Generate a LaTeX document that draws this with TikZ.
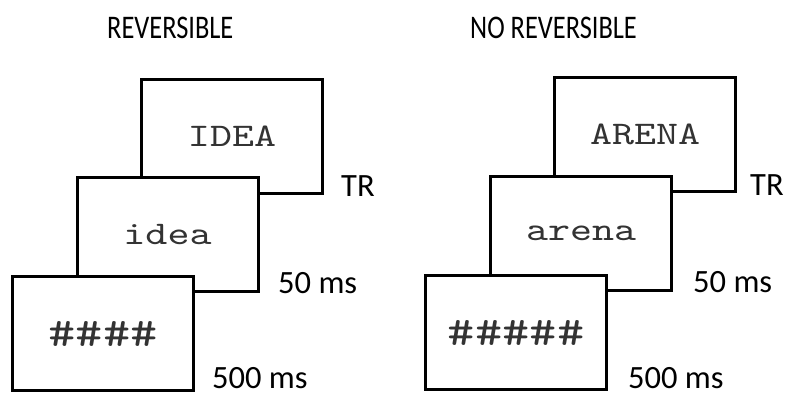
\documentclass[tikz,border=0pt]{standalone}
\usepackage{fontspec}
\usepackage{tikz}
\newfontfamily\labelfont{Carlito}
\newfontfamily\titlefont{Carlito}[FakeStretch=0.8]
\newfontfamily\screenfont{lmmono10-regular.otf}[FakeStretch=1.27]

\tikzset{screen/.style={draw=black, line width=3pt, fill=white, minimum width=181pt, minimum height=114pt, inner sep=0pt, text=black!80},
word/.style={font=\screenfont\fontsize{33}{33}\selectfont},
mask/.style={font=\screenfont\fontsize{41}{41}\selectfont},
lab/.style={anchor=base west, inner sep=0pt, text depth=0pt, font=\labelfont\fontsize{32.5}{32.5}\selectfont},
title/.style={anchor=base west, inner sep=0pt, font=\titlefont\fontsize{33}{33}\selectfont}}

\begin{document}
\begin{tikzpicture}[x=1pt,y=-1pt]
\useasboundingbox (0,0) rectangle (786,394);

%%%%% Reversible
\node [title] (revtitle) at (107,38) {REVERSIBLE};

\node [screen, word] (revtarget) at (232,136.5) {IDEA};
\node [screen, word] (revprime) at (167.5,234.5) {idea};
\node [screen, mask] (revmask) at (103,333.5) {\#\#\#\#};

\node [lab] (revtr) at (341,196) {TR}; \node [lab] (revfifty) at (278,293) {50 ms}; \node [lab] (revfive) at (212,388) {500 ms};

%%%%% No reversible
\node [title] (nrevtitle) at (470,38) {NO REVERSIBLE};

\node [screen, word] (nrevtarget) at (645,134.5) {ARENA};
\node [screen, word] (nrevprime) at (581,233) {arena};
\node [screen, mask] (nrevmask) at (516,332.5) {\#\#\#\#\#};

\node [lab] (nrevtr) at (750,195) {TR}; \node [lab] (nrevfifty) at (693,292) {50 ms}; \node [lab] (nrevfive) at (628,388) {500 ms};

\end{tikzpicture}
\end{document}
